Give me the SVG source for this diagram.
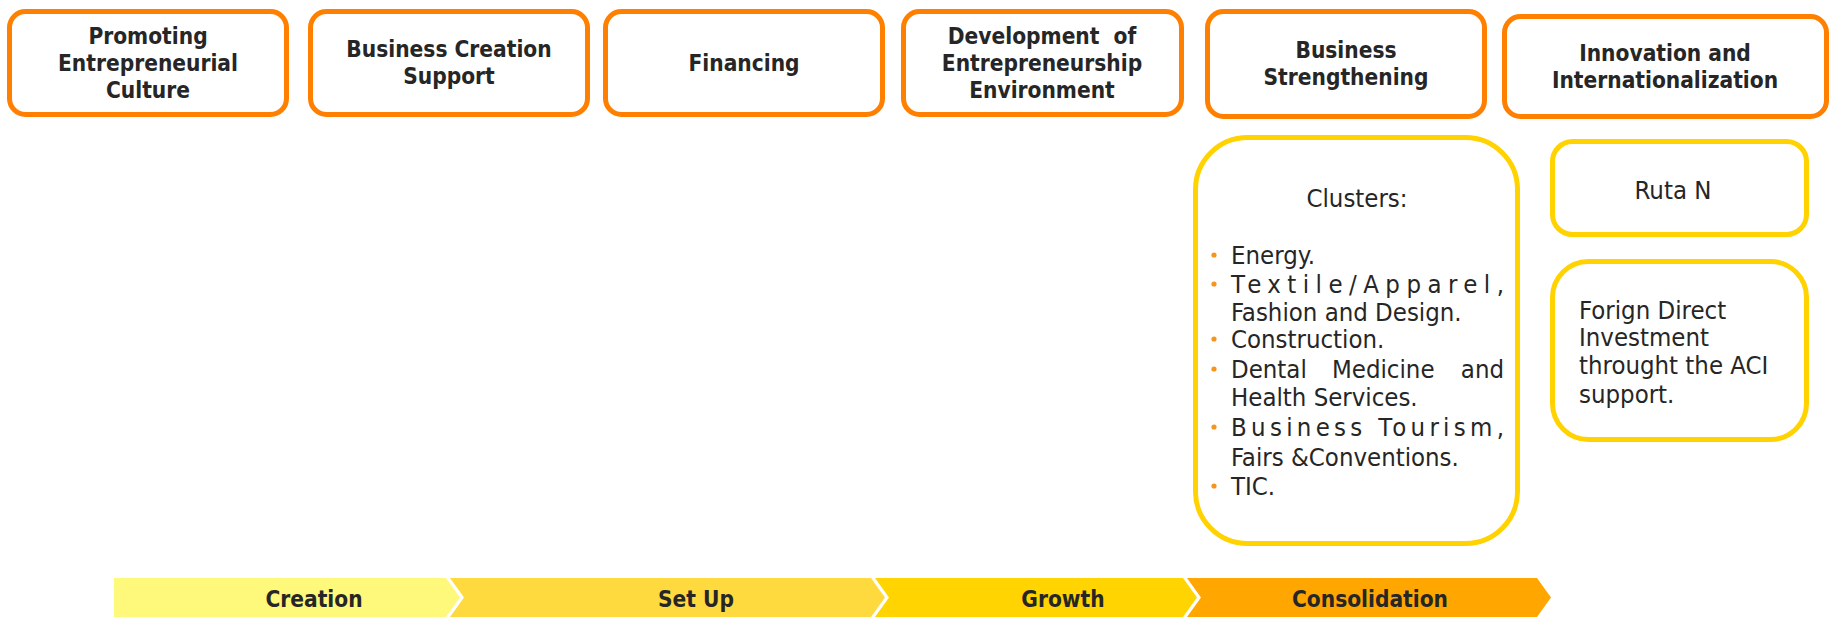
<svg xmlns="http://www.w3.org/2000/svg" width="1831" height="617" viewBox="0 0 1831 617">
<style>
.hdr{fill:#fff;stroke:#FF8000;stroke-width:5}
.ybox{fill:#fff;stroke:#FFD200;stroke-width:5}
.ht{font-family:"DejaVu Sans Condensed","DejaVu Sans",sans-serif;font-stretch:condensed;font-weight:bold;font-size:22.5px;fill:#262626;text-anchor:middle}
.bt{font-family:"DejaVu Sans Condensed","DejaVu Sans",sans-serif;font-stretch:condensed;font-size:25.5px;fill:#262626}
.bl{fill:#F7941D}
.st{font-family:"DejaVu Sans Condensed","DejaVu Sans",sans-serif;font-stretch:condensed;font-weight:bold;font-size:22.5px;fill:#262626;text-anchor:middle}
</style>
<rect width="1831" height="617" fill="#fff"/>
<g id="n1"><rect class="hdr" x="9.5" y="11.5" width="277" height="103" rx="16"/>
<text class="ht" x="148" y="44">Promoting</text><text class="ht" x="148" y="71">Entrepreneurial</text><text class="ht" x="148" y="98">Culture</text></g>
<g id="n2"><rect class="hdr" x="310.5" y="11.5" width="277" height="103" rx="16"/>
<text class="ht" x="449" y="57">Business Creation</text><text class="ht" x="449" y="84">Support</text></g>
<g id="n3"><rect class="hdr" x="605.5" y="11.5" width="277" height="103" rx="16"/>
<text class="ht" x="744" y="71">Financing</text></g>
<g id="n4"><rect class="hdr" x="903.5" y="11.5" width="278" height="103" rx="16"/>
<text class="ht" x="1042" y="44">Development&#160; of</text><text class="ht" x="1042" y="71">Entrepreneurship</text><text class="ht" x="1042" y="98">Environment</text></g>
<g id="n5"><rect class="hdr" x="1207.5" y="11.5" width="277" height="105" rx="16"/>
<text class="ht" x="1346" y="58">Business</text><text class="ht" x="1346" y="85">Strengthening</text></g>
<g id="n6"><rect class="hdr" x="1504.5" y="16.5" width="322" height="100" rx="16"/>
<text class="ht" x="1665" y="61">Innovation and</text><text class="ht" x="1665" y="88">Internationalization</text></g>
<g id="clusters"><rect class="ybox" x="1195.5" y="137.5" width="322" height="406" rx="52"/>
<text class="bt" x="1357" y="207" text-anchor="middle">Clusters:</text>
<circle class="bl" cx="1214" cy="255" r="2.6"/><text class="bt" x="1231" y="264">Energy.</text>
<circle class="bl" cx="1214" cy="284" r="2.6"/><text class="bt" x="1231" y="293" textLength="273" lengthAdjust="spacing">Textile/Apparel,</text>
<text class="bt" x="1231" y="321">Fashion and Design.</text>
<circle class="bl" cx="1214" cy="339" r="2.6"/><text class="bt" x="1231" y="348">Construction.</text>
<circle class="bl" cx="1214" cy="369" r="2.6"/><text class="bt" y="378"><tspan x="1231">Dental</tspan><tspan x="1332">Medicine</tspan><tspan x="1504" text-anchor="end">and</tspan></text>
<text class="bt" x="1231" y="406">Health Services.</text>
<circle class="bl" cx="1214" cy="427" r="2.6"/><text class="bt" x="1231" y="436" textLength="273" lengthAdjust="spacing">Business Tourism,</text>
<text class="bt" x="1231" y="466">Fairs &amp;Conventions.</text>
<circle class="bl" cx="1214" cy="486" r="2.6"/><text class="bt" x="1231" y="495">TIC.</text></g>
<g id="rutan"><rect class="ybox" x="1552.5" y="141.5" width="254" height="93" rx="20"/>
<text class="bt" x="1673" y="199" text-anchor="middle">Ruta N</text></g>
<g id="fdi"><rect class="ybox" x="1552.5" y="261.5" width="254" height="178" rx="36"/>
<text class="bt" x="1579" y="319">Forign Direct</text><text class="bt" x="1579" y="346">Investment</text><text class="bt" x="1579" y="374">throught the ACI</text><text class="bt" x="1579" y="403">support.</text></g>
<g id="stages">
<path d="M114,578 L446,578 L460,597.5 L446,617 L114,617 Z" fill="#FEF97A"/>
<path d="M450,578 L871,578 L885,597.5 L871,617 L450,617 L464,597.5 Z" fill="#FFDA3F"/>
<path d="M875,578 L1183,578 L1197,597.5 L1183,617 L875,617 L889,597.5 Z" fill="#FFD400"/>
<path d="M1187,578 L1537,578 L1551,597.5 L1537,617 L1187,617 L1201,597.5 Z" fill="#FFA600"/>
<text class="st" x="314" y="606.5">Creation</text>
<text class="st" x="696" y="606.5">Set Up</text>
<text class="st" x="1063" y="606.5">Growth</text>
<text class="st" x="1370" y="606.5">Consolidation</text>
</g>
</svg>
